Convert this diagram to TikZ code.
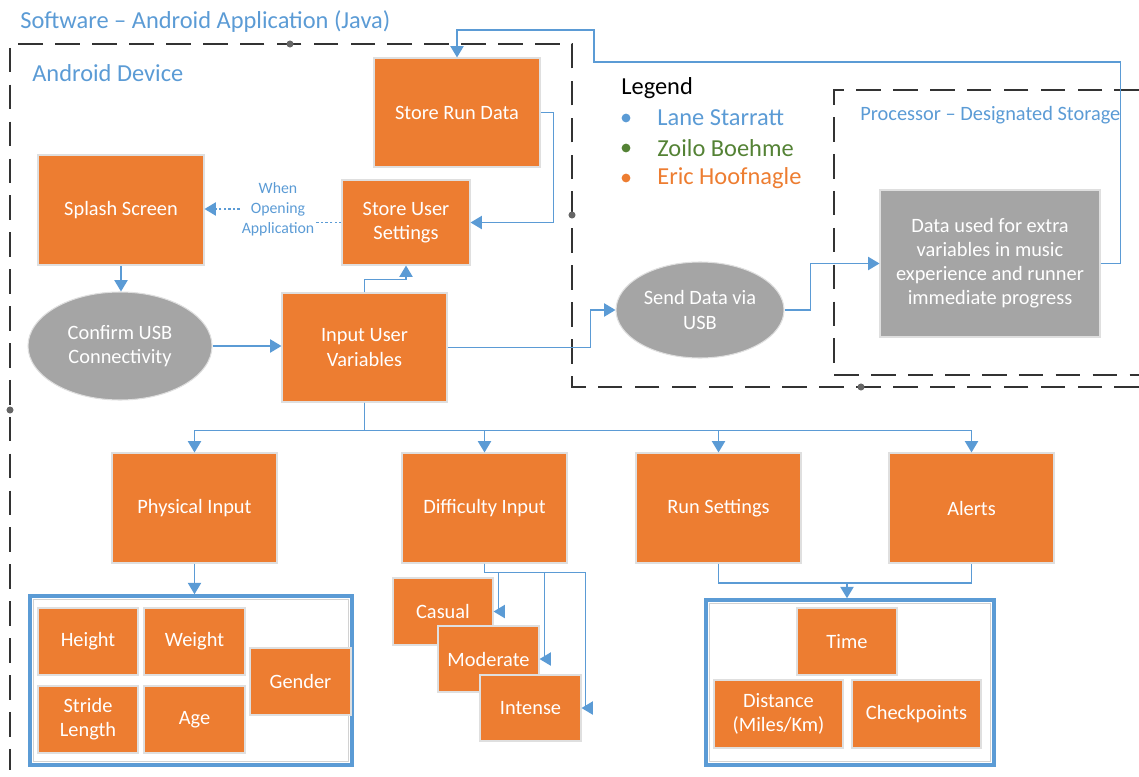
\documentclass[tikz,border=0pt]{standalone}
\usepackage{fontspec}
\setmainfont{Carlito}
\usetikzlibrary{calc}
\usetikzlibrary{positioning}
\usetikzlibrary{arrows.meta}
\usetikzlibrary{shapes.geometric}

\definecolor{boxorange}{HTML}{ED7D31}
\definecolor{boxgray}{HTML}{A5A5A5}
\definecolor{lineblue}{HTML}{5B9BD5}
\definecolor{legendgreen}{HTML}{548235}

\newcommand{\boxfont}{\fontsize{11.6}{13.7}\selectfont}
\newcommand{\bigfont}{\fontsize{13.9}{16}\selectfont}
\newcommand{\smallfont}{\fontsize{9}{11.3}\selectfont}

\begin{document}
\begin{tikzpicture}[x=0.02cm,y=-0.02cm,
	sz/.style 2 args={minimum width=#1*0.02cm, minimum height=#2*0.02cm},
	obox/.style={draw=gray!25, line width=0.6pt, fill=boxorange, text=white, font=\boxfont, align=center, inner sep=1pt},
	gbox/.style={obox, fill=boxgray},
	gell/.style={gbox, ellipse},
	conn/.style={draw=lineblue, line width=1pt, -{Triangle[width=7.5pt,length=6.5pt]}},
	dotconn/.style={draw=lineblue, line width=1pt, dash pattern=on 1.3pt off 1.3pt},
	dashbox/.style={draw=black!80, line width=0.9pt, dash pattern=on 14pt off 7pt},
	holder/.style={draw=lineblue, line width=2pt},
	handle/.style={fill=black!60, draw=none, circle, inner sep=0pt, minimum size=4pt},
	label/.style={inner sep=0pt, anchor=west}]

	\useasboundingbox (0,0) rectangle (1139,777);

	%Frames
	\draw[dashbox] (1139,387) -- (572,387) -- (572,44) -- (10,44) -- (10,770);
	\draw[dashbox] (1139,90) -- (834,90) -- (834,375) -- (1139,375);
	\node[handle] (h1) at (290,44) {};
	\node[handle] (h2) at (572,215) {};
	\node[handle] (h3) at (861,387) {};
	\node[handle] (h4) at (10,410) {};

	%Titles
	\node[label, font=\bigfont, text=lineblue] (title) at (20,22) {Software – Android Application (Java)};
	\node[label, font=\bigfont, text=lineblue] (device) at (32,73) {Android Device};
	\node[label, font=\boxfont, text=lineblue] (proc) at (860,115) {Processor – Designated Storage};

	%Legend
	\node[label, font=\bigfont] (legend) at (621,88) {Legend};
	\node[handle, fill=lineblue, minimum size=5pt] (b1) at (626,118) {};
	\node[handle, fill=legendgreen, minimum size=5pt] (b2) at (626,148) {};
	\node[handle, fill=boxorange, minimum size=5pt] (b3) at (626,178) {};
	\node[label, font=\bigfont, text=lineblue] (lane) at (657,118) {Lane Starratt};
	\node[label, font=\bigfont, text=legendgreen] (zoilo) at (657,148) {Zoilo Boehme};
	\node[label, font=\bigfont, text=boxorange] (eric) at (657,178) {Eric Hoofnagle};

	%Top row
	\node[obox, sz={166}{109}] (rundata) at (457,112.5) {Store Run Data};
	\node[obox, sz={166}{110}] (splash) at (121,210) {Splash Screen};
	\node[obox, sz={128}{85}] (settings) at (406,222.5) {Store User\\Settings};
	\node[gell, sz={184}{108}] (confirm) at (120,346) {Confirm USB\\Connectivity};
	\node[obox, sz={165}{109}] (input) at (364.5,347.5) {Input User\\Variables};
	\node[gell, sz={168}{96}] (send) at (700,310) {Send Data via\\USB};
	\node[gbox, sz={220}{147}] (storage) at (990,263.5) {Data used for extra\\variables in music\\experience and runner\\immediate progress};
	\node[font=\smallfont, text=lineblue, align=center, inner sep=1pt] (when) at (278,209) {When\\Opening\\Application};

	%Middle row
	\node[obox, sz={165}{110}] (physical) at (194.5,508) {Physical Input};
	\node[obox, sz={165}{110}] (difficulty) at (484.5,508) {Difficulty Input};
	\node[obox, sz={165}{110}] (runset) at (718.5,508) {Run Settings};
	\node[obox, sz={165}{110}] (alerts) at (971.5,508) {Alerts};

	%Physical group
	\node[holder, sz={322}{169}] (physgroup) at (191,680.5) {};
	\draw[gray!35, line width=0.6pt] ($(physgroup.north west)+(5,5)$) rectangle ($(physgroup.south east)+(-5,-5)$);
	\node[obox, sz={100}{67}] (height) at (88,641.5) {Height};
	\node[obox, sz={101}{67}] (weight) at (194.5,641.5) {Weight};
	\node[obox, sz={101}{67}] (gender) at (300.5,681.5) {Gender};
	\node[obox, sz={100}{67}] (stride) at (88,719.5) {Stride\\Length};
	\node[obox, sz={101}{67}] (age) at (194.5,719.5) {Age};

	%Difficulty levels
	\node[obox, sz={100}{67}] (casual) at (443,611.5) {Casual};
	\node[obox, sz={101}{66}] (moderate) at (488.5,659) {Moderate};
	\node[obox, sz={101}{66}] (intense) at (530.5,708) {Intense};

	%Run group
	\node[holder, sz={288}{165}] (rungroup) at (850,682.5) {};
	\draw[gray!35, line width=0.6pt] ($(rungroup.north west)+(5,5)$) rectangle ($(rungroup.south east)+(-5,-5)$);
	\node[obox, sz={100}{67}] (time) at (847,641.5) {Time};
	\node[obox, sz={129}{68}] (distance) at (778.5,714) {Distance\\(Miles/Km)};
	\node[obox, sz={129}{68}] (checkpoints) at (916.5,714) {Checkpoints};

	%Connectors
	\draw[conn] (splash.south) -- (splash.south |- confirm.north);
	\draw[conn] (confirm.east) -- (confirm.east -| input.west);
	\draw[conn] (input.north) -- ++(0,-13) -| (settings.south);
	\draw[conn] (rundata.east) -- ++(13,0) |- (settings.east);
	\draw[dotconn] (settings.west) -- (settings.west -| when.east);
	\draw[dotconn, -{Triangle[width=7.5pt,length=6.5pt]}] (when.west) -- (when.west -| splash.east);
	\draw[conn] (input.east) -- ++(143,0) |- (send.west);
	\draw[conn] (send.east) -- ++(26,0) |- (storage.west);
	\coordinate (jog) at (594,62);
	\draw[conn] (storage.east) -- ++(20,0) |- (jog) -- ++(0,-32) -| (rundata.north);

	\draw[conn] (input.south) -- ++(0,28) -| (physical.north);
	\draw[conn] (input.south) -- ++(0,28) -| (difficulty.north);
	\draw[conn] (input.south) -- ++(0,28) -| (runset.north);
	\draw[conn] (input.south) -- ++(0,28) -| (alerts.north);

	\draw[conn] (physical.south) -- (physical.south |- physgroup.north);

	\draw[conn] (difficulty.south) -- ++(0,9) -| ($(casual.east)+(5,0)$) -- (casual.east);
	\draw[conn] (difficulty.south) -- ++(0,9) -| ($(moderate.east)+(5,0)$) -- (moderate.east);
	\draw[conn] (difficulty.south) -- ++(0,9) -| ($(intense.east)+(4,0)$) -- (intense.east);

	\coordinate (merge) at (847,583);
	\draw[draw=lineblue, line width=1pt] (runset.south) |- (merge) -| (alerts.south);
	\draw[conn] (merge) -- (merge |- rungroup.north);

\end{tikzpicture}
\end{document}
